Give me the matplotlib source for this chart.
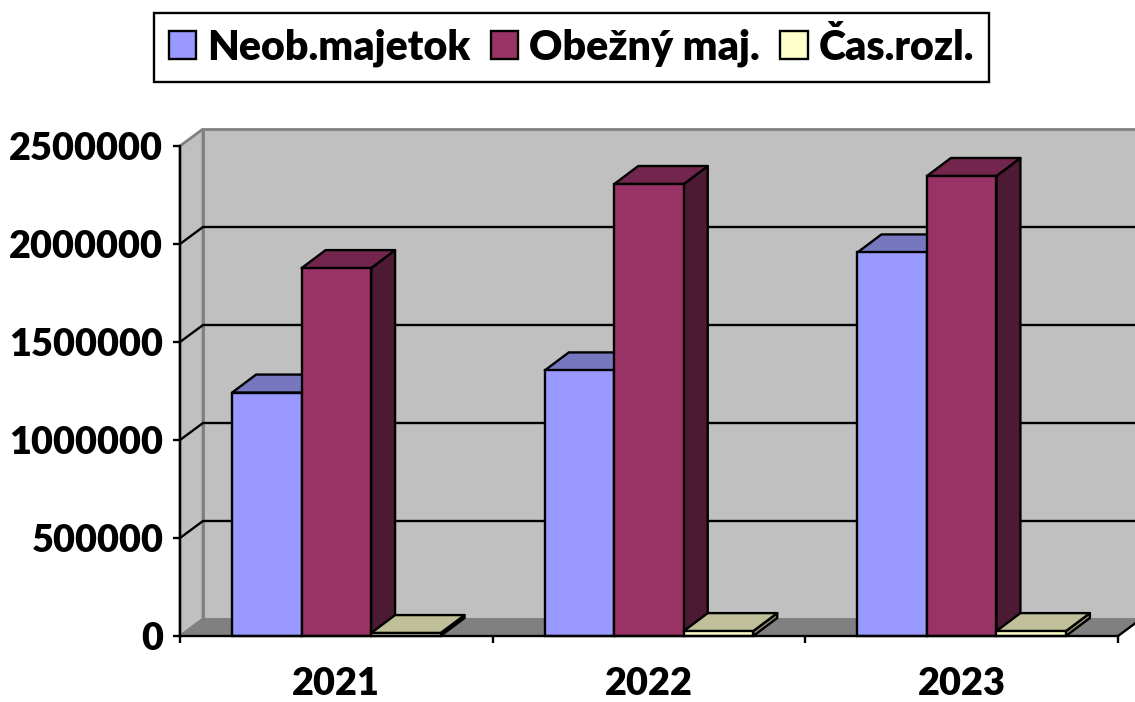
import matplotlib
matplotlib.use("Agg")
import matplotlib.pyplot as plt
from matplotlib.patches import Polygon, Patch

plt.rcParams["font.family"] = ["Lato", "DejaVu Sans"]

years = ["2021", "2022", "2023"]
neob = [1242000, 1355000, 1957000]
obezny = [1877000, 2306000, 2347000]
cas = [15000, 25000, 25000]
series_names = ["Neob.majetok", "Obežný maj.", "Čas.rozl."]
y_ticks = [0, 500000, 1000000, 1500000, 2000000, 2500000]

# front, top, side colours per series
colors = [("#9999FF", "#7777C0", "#5C5C99"),
          ("#993366", "#73264D", "#4D1A33"),
          ("#FFFFCC", "#BFBF99", "#8F8F73")]

W, H = 1135, 702
fig = plt.figure(figsize=(W / 100, H / 100), dpi=100)
ax = fig.add_axes([180 / W, (H - 636) / H, 938 / W, 490 / H])
ax.set_xlim(0, 3)
ax.set_ylim(0, 2500000)
ax.patch.set_alpha(0)

# pixel offsets of the fake 3d depth, turned into data units
px_x = 3 / 938
px_y = 2500000 / 490
wall_dx, wall_dy = 23 * px_x, 17 * px_y
bar_dx, bar_dy = 24 * px_x, 18 * px_y
lw = 1.7
top = y_ticks[-1]

# walls and floor
ax.add_patch(Polygon([(wall_dx, wall_dy), (3 + wall_dx, wall_dy), (3 + wall_dx, top + wall_dy), (wall_dx, top + wall_dy)],
                     fc="#C0C0C0", ec="#808080", lw=2, joinstyle="bevel", clip_on=False, zorder=1))
ax.add_patch(Polygon([(0, 0), (wall_dx, wall_dy), (wall_dx, top + wall_dy), (0, top)],
                     fc="#C0C0C0", ec="#808080", lw=2, joinstyle="bevel", clip_on=False, zorder=1))
ax.add_patch(Polygon([(0, 0), (3, 0), (3 + wall_dx, wall_dy), (wall_dx, wall_dy)],
                     fc="#808080", ec="#808080", lw=1, clip_on=False, zorder=1.5))
ax.plot([3, 3 + wall_dx], [0, wall_dy], color="black", lw=lw, clip_on=False, zorder=1.6)

# gridlines on the walls
for v in y_ticks[1:-1]:
    ax.plot([0, wall_dx, 3 + wall_dx], [v, v + wall_dy, v + wall_dy], color="black", lw=lw, clip_on=False, zorder=2)

# bars, drawn left to right so later ones cover earlier side faces
bar_w = 3 / 13.5
z = 3
for i in range(3):
    for j, vals in enumerate([neob, obezny, cas]):
        v = vals[i]
        x0 = i + 0.5 + (j - 1.5) * bar_w
        x1 = x0 + bar_w
        front, top_c, side = colors[j]
        ax.add_patch(Polygon([(x1, 0), (x1 + bar_dx, bar_dy), (x1 + bar_dx, v + bar_dy), (x1, v)],
                             fc=side, ec="black", lw=lw, joinstyle="round", clip_on=False, zorder=z))
        ax.add_patch(Polygon([(x0, v), (x1, v), (x1 + bar_dx, v + bar_dy), (x0 + bar_dx, v + bar_dy)],
                             fc=top_c, ec="black", lw=lw, joinstyle="round", clip_on=False, zorder=z))
        ax.bar(x0, v, width=bar_w, align="edge", color=front, edgecolor="black", lw=lw, clip_on=False, zorder=z + 0.5)
        z += 1

# axes
for s in ["top", "right"]:
    ax.spines[s].set_visible(False)
for s in ["left", "bottom"]:
    ax.spines[s].set_linewidth(lw)
    ax.spines[s].set_zorder(z + 1)

ax.set_yticks(y_ticks)
ax.set_yticklabels([str(v) for v in y_ticks], fontsize=27.3, fontweight="heavy")
ax.tick_params(axis="y", length=5, width=lw, pad=7)
ax.set_xticks([0, 1, 2, 3])
ax.set_xticklabels([])
ax.tick_params(axis="x", which="major", length=5, width=lw)
ax.set_xticks([0.5, 1.5, 2.5], minor=True)
ax.set_xticklabels(years, minor=True, fontsize=27.3, fontweight="heavy")
ax.tick_params(axis="x", which="minor", length=0, pad=22)

handles = [Patch(fc=colors[k][0], ec="black", lw=lw) for k in range(3)]
leg = fig.legend(handles, series_names, ncol=3, loc="center",
                 bbox_to_anchor=(571.5 / W, (H - 47.5) / H),
                 prop={"size": 29.6, "weight": "heavy"},
                 frameon=True, fancybox=False, edgecolor="black", framealpha=1,
                 handlelength=0.66, handleheight=0.66, handletextpad=0.27,
                 columnspacing=0.5, borderpad=0.37, borderaxespad=0)
leg.get_frame().set_linewidth(lw)

fig.savefig("out.png", dpi=100)
